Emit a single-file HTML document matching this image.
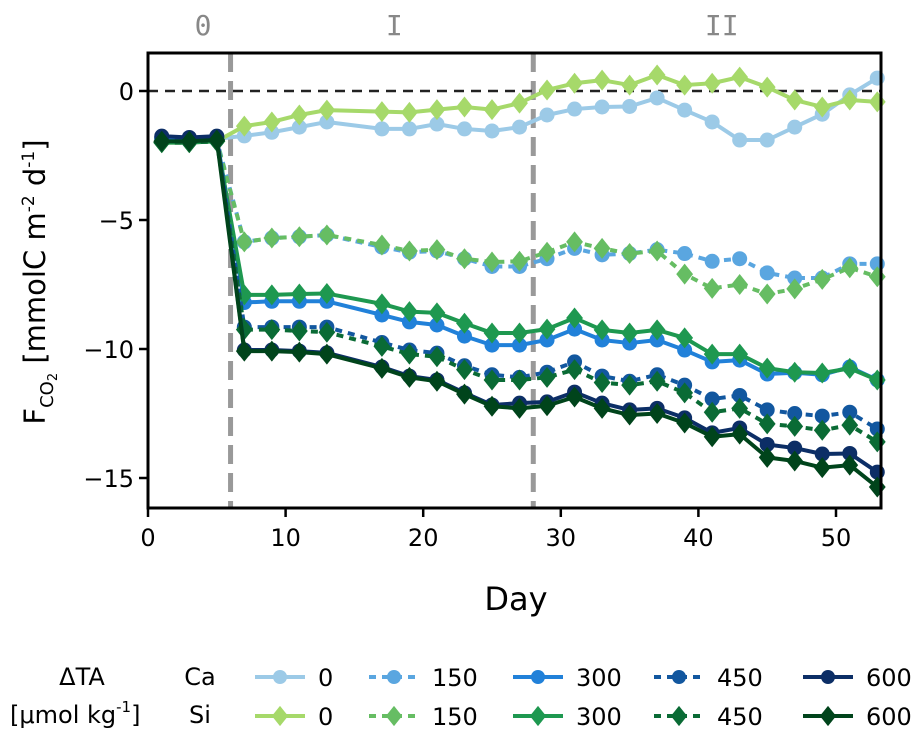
<!DOCTYPE html>
<html><head><meta charset="utf-8"><style>
body{margin:0;background:#fff}
svg{display:block;font-family:"DejaVu Sans","Liberation Sans",sans-serif}
</style></head><body>
<svg id="chart" width="923" height="734" viewBox="0 0 923 734" xmlns="http://www.w3.org/2000/svg">
<g id="plot"></g>
</svg>
<script>
const days=[1,3,5,7,9,11,13,17,19,21,23,25,27,29,31,33,35,37,39,41,43,45,47,49,51,53];
const ca0=[-1.85,-1.9,-1.85,-1.74,-1.6,-1.4,-1.2,-1.47,-1.47,-1.28,-1.47,-1.55,-1.4,-0.93,-0.7,-0.62,-0.6,-0.27,-0.74,-1.2,-1.9,-1.9,-1.4,-0.9,-0.15,0.5];
const si0=[-2.0,-2.0,-1.95,-1.36,-1.2,-0.93,-0.74,-0.8,-0.83,-0.72,-0.62,-0.72,-0.47,0.04,0.3,0.42,0.23,0.62,0.23,0.3,0.54,0.15,-0.35,-0.62,-0.35,-0.42];
const ca150=[-1.9,-1.95,-1.9,-5.85,-5.7,-5.65,-5.58,-6.05,-6.25,-6.2,-6.5,-6.8,-6.8,-6.5,-6.1,-6.35,-6.3,-6.15,-6.3,-6.6,-6.5,-7.05,-7.25,-7.25,-6.7,-6.7];
const si150=[-2.0,-2.0,-1.95,-5.85,-5.7,-5.65,-5.58,-5.97,-6.2,-6.15,-6.5,-6.63,-6.6,-6.25,-5.85,-6.1,-6.3,-6.2,-7.1,-7.65,-7.5,-7.87,-7.67,-7.3,-6.85,-7.2];
const ca300=[-1.85,-1.9,-1.85,-8.2,-8.15,-8.15,-8.15,-8.68,-8.95,-9.07,-9.5,-9.85,-9.85,-9.65,-9.23,-9.65,-9.77,-9.65,-10.04,-10.5,-10.43,-10.97,-10.92,-11.0,-10.7,-11.2];
const si300=[-2.0,-2.0,-1.95,-7.9,-7.9,-7.87,-7.85,-8.25,-8.55,-8.6,-9.0,-9.38,-9.38,-9.23,-8.8,-9.26,-9.38,-9.26,-9.57,-10.2,-10.2,-10.74,-10.9,-10.93,-10.75,-11.2];
const ca450=[-1.8,-1.85,-1.8,-9.15,-9.15,-9.15,-9.15,-9.75,-10.04,-10.16,-10.65,-11.0,-11.1,-10.9,-10.5,-11.05,-11.25,-11.0,-11.4,-11.94,-11.8,-12.36,-12.5,-12.6,-12.45,-13.1];
const si450=[-2.0,-2.0,-1.95,-9.25,-9.25,-9.3,-9.35,-9.9,-10.2,-10.3,-10.8,-11.2,-11.2,-11.1,-10.8,-11.3,-11.4,-11.25,-11.7,-12.45,-12.3,-12.9,-13.0,-13.15,-12.95,-13.6];
const ca600=[-1.75,-1.8,-1.75,-10.04,-10.04,-10.08,-10.15,-10.7,-11.05,-11.2,-11.7,-12.17,-12.1,-12.05,-11.67,-12.1,-12.36,-12.3,-12.67,-13.25,-13.06,-13.7,-13.84,-14.07,-14.05,-14.77];
const si600=[-1.95,-1.95,-1.9,-10.08,-10.08,-10.12,-10.2,-10.75,-11.1,-11.25,-11.75,-12.22,-12.3,-12.2,-11.86,-12.3,-12.56,-12.5,-12.87,-13.4,-13.3,-14.2,-14.34,-14.6,-14.5,-15.35];
const xTicks=[0,10,20,30,40,50];
const yTicks=[0,-5,-10,-15];
const phaseLabels=["0","I","II"];
const phaseX=[4,17.9,41.7];
const phaseBounds=[6,28];

const L=148,R=881,T=53,B=508;
const X=d=>L+d*(836-148)/50;
const Y=v=>91-v*25.8;
const NS="http://www.w3.org/2000/svg";
const svg=document.getElementById('plot');
function mk(tag,at,parent){const e=document.createElementNS(NS,tag);for(const k in at)e.setAttribute(k,at[k]);(parent||svg).appendChild(e);return e;}

phaseBounds.forEach(d=>{
  const l=mk('line',{x1:X(d),x2:X(d),y1:T,y2:B,stroke:'#999','stroke-width':5,'stroke-dasharray':'19 9'});
  
  
});
const z=mk('line',{x1:L,x2:R,y1:Y(0),y2:Y(0),stroke:'#222','stroke-width':2.5,'stroke-dasharray':'10 7'});


phaseLabels.forEach((t,i)=>{
  const e=mk('text',{x:X(phaseX[i]),y:35,'text-anchor':'middle','font-size':28,fill:'#888','font-family':'"DejaVu Sans Mono","Liberation Mono",monospace'});
  e.textContent=t;
  
  
});

const series=[
 {n:'ca-0',d:ca0,c:'#9ccae7',dash:null,m:'o'},
 {n:'si-0',d:si0,c:'#a6d96a',dash:null,m:'d'},
 {n:'ca-150',d:ca150,c:'#5aa6e0',dash:'7 6',m:'o'},
 {n:'si-150',d:si150,c:'#66bd63',dash:'7 6',m:'d'},
 {n:'ca-300',d:ca300,c:'#2181d9',dash:null,m:'o'},
 {n:'si-300',d:si300,c:'#1e9850',dash:null,m:'d'},
 {n:'ca-450',d:ca450,c:'#12579f',dash:'7 6',m:'o'},
 {n:'si-450',d:si450,c:'#0a6b35',dash:'7 6',m:'d'},
 {n:'ca-600',d:ca600,c:'#0c2e66',dash:null,m:'o'},
 {n:'si-600',d:si600,c:'#00441b',dash:null,m:'d'}
];
function marker(g,m,x,y,c,s){
  if(m==='o') return mk('circle',{cx:x,cy:y,r:s||7.5,fill:c},g);
  const r=s?s*1.45:10.5;
  return mk('polygon',{points:`${x},${y-r} ${x+r*0.8},${y} ${x},${y+r} ${x-r*0.8},${y}`,fill:c},g);
}
series.forEach(s=>{
  const g=mk('g',{});
  
  
  const p=mk('polyline',{points:s.d.map((v,i)=>X(days[i])+','+Y(v)).join(' '),fill:'none',stroke:s.c,'stroke-width':4,'stroke-linejoin':'round'},g);
  if(s.dash)p.setAttribute('stroke-dasharray',s.dash);
  s.d.forEach((v,i)=>{
    const e=marker(g,s.m,X(days[i]),Y(v),s.c);
    
    
  });
});

const fr=mk('rect',{x:L,y:T,width:R-L,height:B-T,fill:'none',stroke:'#000','stroke-width':3});


xTicks.forEach(t=>{
  mk('line',{x1:X(t),x2:X(t),y1:B,y2:B+9,stroke:'#000','stroke-width':2.5});
  const e=mk('text',{x:X(t),y:B+38,'text-anchor':'middle','font-size':24});
  e.textContent=t;
  
  
});
yTicks.forEach(t=>{
  mk('line',{x1:L-9,x2:L,y1:Y(t),y2:Y(t),stroke:'#000','stroke-width':2.5});
  const e=mk('text',{x:L-14,y:Y(t)+9,'text-anchor':'end','font-size':24});
  e.textContent=t===0?'0':'\u2212'+Math.abs(t);
  
  
});
const xl=mk('text',{x:516,y:610,'text-anchor':'middle','font-size':32});
xl.textContent='Day';


const yl=mk('text',{transform:'translate(45,282) rotate(-90)','text-anchor':'middle','font-size':29});
yl.innerHTML='F<tspan font-size="18" dy="8">CO</tspan><tspan font-size="13" dy="4">2</tspan><tspan dy="-12"> [mmolC m</tspan><tspan font-size="17" dy="-11">-2</tspan><tspan dy="11"> d</tspan><tspan font-size="17" dy="-11">-1</tspan><tspan dy="11">]</tspan>';



const lg=mk('g',{});


function t(x,y,s,a){const e=mk('text',{x:x,y:y,'font-size':24,'text-anchor':a||'start'},lg);e.textContent=s;return e;}
const h1=t(82,685,'\u0394TA','middle');
const h2=mk('text',{x:10,y:723,'font-size':24},lg);
h2.innerHTML='[\u03bcmol kg<tspan font-size="15" dy="-11">-1</tspan><tspan dy="11">]</tspan>';

t(200,685,'Ca','middle');t(200,723,'Si','middle');
const legX=[255,369,513,654,803];
const legLab=['0','150','300','450','600'];
series.forEach((s,i)=>{
  const col=Math.floor(i/2),row=i%2;
  const y=row?716:677,x0=legX[col];
  const e=mk('g',{},lg);
  
  
  const l=mk('line',{x1:x0,x2:x0+50,y1:y,y2:y,stroke:s.c,'stroke-width':4},e);
  if(s.dash)l.setAttribute('stroke-dasharray','7 6');
  marker(e,s.m,x0+25,y,s.c,7);
  const tx=mk('text',{x:x0+63,y:y+9,'font-size':24},e);tx.textContent=legLab[col];
});
</script>
</body></html>
